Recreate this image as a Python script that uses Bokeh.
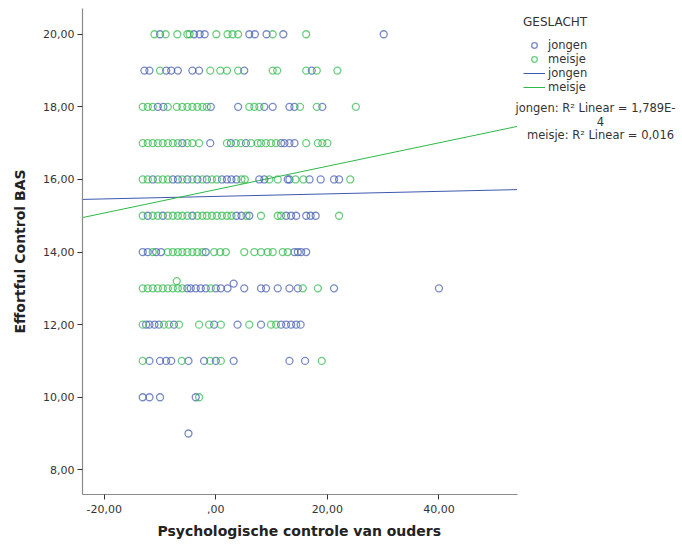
from bokeh.plotting import figure
from bokeh.models import Range1d, FixedTicker, Legend, LegendItem, Label, Title
from bokeh.embed import file_html
from bokeh.resources import INLINE

# ---------------- data ----------------
# jongen (blue) and meisje (green) x-values per Effortful Control BAS level
j20 = [-10.0, -3.9, -2.9, -2.0, 6.0, 7.0, 9.1, 12.1, 30.1]
m20 = [-11.0, -9.0, -6.9, -5.1, -4.7, 0.1, 2.1, 3.0, 4.0, 10.2, 16.2]
j19 = [-12.8, -11.9, -8.9, -8.0, -6.8, -4.2, -3.0, 5.1, 17.2]
m19 = [-10.0, -1.0, 0.8, 2.0, 4.0, 10.2, 11.0, 16.2, 18.1, 21.8]
j18 = [-10.4, -9.4, -0.9, 4.0, 8.7, 10.2, 13.2, 14.1, 19.1]
m18 = [-13.1, -12.2, -11.3, -8.6, -7.0, -6.0, -5.1, -4.2, -3.3, -2.4, -1.6,
       6.0, 6.9, 7.8, 15.1, 18.1, 25.1]
j17 = [-6.0, -1.0, 2.7, 5.4, 11.7, 12.3, 13.2, 14.1]
m17 = [-13.1, -12.2, -11.3, -10.4, -9.5, -8.6, -7.7, -6.8, -5.1, -4.2, -3.0,
       2.0, 3.6, 4.5, 6.3, 7.5, 8.1, 9.0, 9.9, 10.8, 16.2, 18.3, 19.1, 20.0]
j16 = [-11.3, -7.7, -6.8, -5.1, -3.3, -1.6, 1.1, 2.0, 2.8, 3.7, 7.8, 8.7,
       12.9, 13.2, 16.8, 18.8, 21.2, 22.1]
m16 = [-13.1, -12.2, -10.4, -9.5, -8.6, -6.0, -4.2, -2.4, -0.7, 0.2, 4.6, 5.2,
       9.6, 11.1, 14.3, 15.7, 24.1]
j15 = [-12.2, -9.5, -4.2, 3.7, 4.6, 6.0, 12.6, 13.5, 14.4, 16.2, 17.0, 17.9]
m15 = [-13.1, -11.3, -10.4, -8.6, -7.7, -6.8, -6.0, -5.1, -3.3, -2.4, -1.6,
       -0.7, 0.2, 1.1, 2.0, 2.8, 5.5, 8.1, 11.1, 11.7, 22.1]
j14 = [-13.1, -12.2, -10.7, -9.8, -1.8, 14.1, 14.7, 15.3, 16.2]
m14 = [-11.3, -8.6, -7.7, -6.8, -6.0, -5.1, -4.2, -3.3, -2.4, -0.3, 0.8, 1.8,
       5.1, 6.9, 8.1, 9.3, 10.2, 12.0, 12.9]
j13 = [-5.1, -4.5, -3.6, -2.7, -1.8, 0.0, 0.9, 2.1, 5.1, 8.1, 9.0, 11.1, 13.2,
       14.7, 21.2, 40.0]
m13 = [-13.1, -12.2, -11.3, -10.4, -9.5, -8.6, -7.7, -6.8, -6.0, -0.9, 15.6,
       18.3]
j12 = [-12.5, -11.9, -11.0, -10.2, -7.5, -0.3, 3.9, 8.1, 11.7, 12.6, 13.5,
       14.4, 15.2]
m12 = [-13.1, -9.3, -8.4, -6.6, -3.0, -1.2, 0.9, 6.0, 9.9, 10.8]
j11 = [-11.9, -10.0, -8.9, -8.0, -4.9, -2.1, 0.0, 3.2, 13.2, 16.0]
m11 = [-13.1, -6.1, -1.0, 0.9, 19.0]
j10 = [-13.1, -11.9, -10.0, -3.6]
m10 = [-3.0]
j9 = [-4.9]
# single points slightly off the integer levels
j_extra_x = [3.2]
j_extra_y = [13.13]
m_extra_x = [-7.0]
m_extra_y = [13.2]

# fitted regression lines (end points)
fit_x = [-23.9, 54.0]
jongen_fit_y = [15.45, 15.72]
meisje_fit_y = [14.95, 17.46]

x_ticks = [-20, 0, 20, 40]
x_tick_labels = ["-20,00", ",00", "20,00", "40,00"]
y_ticks = [8, 10, 12, 14, 16, 18, 20]
y_tick_labels = ["8,00", "10,00", "12,00", "14,00", "16,00", "18,00", "20,00"]

jongen_rows = [(20, j20), (19, j19), (18, j18), (17, j17), (16, j16), (15, j15),
               (14, j14), (13, j13), (12, j12), (11, j11), (10, j10), (9, j9)]
meisje_rows = [(20, m20), (19, m19), (18, m18), (17, m17), (16, m16), (15, m15),
               (14, m14), (13, m13), (12, m12), (11, m11), (10, m10)]

jongen_x, jongen_y = [], []
for yv, xs in jongen_rows:
    jongen_x += xs
    jongen_y += [yv] * len(xs)
jongen_x += j_extra_x
jongen_y += j_extra_y
meisje_x, meisje_y = [], []
for yv, xs in meisje_rows:
    meisje_x += xs
    meisje_y += [yv] * len(xs)
meisje_x += m_extra_x
meisje_y += m_extra_y

BLUE = "#3E58AC"
GREEN = "#2EB848"
FONT = "DejaVu Sans"

X0, X_AXIS_END = -23.9, 54.0
Y0, Y1 = 7.32, 20.71
PX_PER_UNIT = 5.578
PY_PER_UNIT = 36.3
FRAME_LEFT, FRAME_TOP, FRAME_BOTTOM = 82, 8, 494
W, H = 682, 544
x_end = X0 + (W - FRAME_LEFT) / PX_PER_UNIT

p = figure(width=W, height=H, output_backend="svg", toolbar_location=None,
           x_range=Range1d(X0, x_end), y_range=Range1d(Y0, Y1),
           min_border_left=FRAME_LEFT, min_border_right=0,
           min_border_top=FRAME_TOP, min_border_bottom=H - FRAME_BOTTOM)
p.outline_line_color = None
p.grid.visible = False
p.background_fill_color = "white"

r_mj = p.line(fit_x, jongen_fit_y, line_color=BLUE, line_width=1)
r_mm = p.line(fit_x, meisje_fit_y, line_color=GREEN, line_width=1)
r_j = p.scatter(jongen_x, jongen_y, marker="circle", size=7, fill_color=None,
                line_color=BLUE, line_alpha=0.7, line_width=1.3)
r_m = p.scatter(meisje_x, meisje_y, marker="circle", size=7, fill_color=None,
                line_color=GREEN, line_alpha=0.7, line_width=1.3)

for ax in (p.xaxis[0], p.yaxis[0]):
    ax.axis_line_color = "#8a8a8a"
    ax.axis_line_width = 1.2
    ax.major_tick_line_color = "#333333"
    ax.major_tick_out = 5
    ax.major_tick_in = 0
    ax.minor_tick_line_color = None
    ax.major_label_text_font = FONT
    ax.major_label_text_font_size = "11px"
    ax.major_label_text_color = "#333333"
    ax.axis_label_text_font = FONT
    ax.axis_label_text_font_size = "14px"
    ax.axis_label_text_font_style = "bold"
    ax.axis_label_text_color = "#222222"

p.xaxis.bounds = (X0, X_AXIS_END)
p.xaxis.ticker = FixedTicker(ticks=x_ticks)
p.xaxis.major_label_overrides = dict(zip(x_ticks, x_tick_labels))
p.yaxis.ticker = FixedTicker(ticks=y_ticks)
p.yaxis.major_label_overrides = dict(zip(y_ticks, y_tick_labels))
p.yaxis.axis_label = "Effortful Control BAS"
p.xaxis.major_label_standoff = 5
p.yaxis.major_label_standoff = 3
p.yaxis.axis_label_standoff = 12

# x-axis title centred under the axis line (not under the whole frame)
p.add_layout(Title(text="Psychologische controle van ouders", align="left",
                   offset=75, standoff=10, text_font=FONT,
                   text_font_size="14px", text_font_style="bold",
                   text_color="#222222"), "below")

legend = Legend(items=[
    LegendItem(label="jongen", renderers=[r_j]),
    LegendItem(label="meisje", renderers=[r_m]),
    LegendItem(label="jongen", renderers=[r_mj]),
    LegendItem(label="meisje", renderers=[r_mm]),
], location=(441, 400), title="GESLACHT")
legend.background_fill_alpha = 0
legend.border_line_color = None
legend.padding = 0
legend.margin = 0
legend.spacing = 0
legend.glyph_width = 22
legend.glyph_height = 14
legend.label_height = 14
legend.label_standoff = 3
legend.label_text_font = FONT
legend.label_text_font_size = "11.5px"
legend.label_text_color = "#333333"
legend.title_text_font = FONT
legend.title_text_font_size = "12px"
legend.title_text_font_style = "normal"
legend.title_text_color = "#333333"
legend.title_standoff = 9
p.add_layout(legend)

r2_texts = ["jongen: R\u00b2 Linear = 1,789E-", "4", "meisje: R\u00b2 Linear = 0,016"]
r2_px = [595, 600, 600]
r2_py = [108, 121, 135]
for t, sx, sy in zip(r2_texts, r2_px, r2_py):
    p.add_layout(Label(x=X0 + (sx - FRAME_LEFT) / PX_PER_UNIT,
                       y=Y1 - (sy - FRAME_TOP) / PY_PER_UNIT,
                       text=t, text_align="center",
                       text_baseline="middle", text_font=FONT,
                       text_font_size="11.5px", text_color="#333333"))

open("out.html", "w").write(file_html(p, INLINE))
